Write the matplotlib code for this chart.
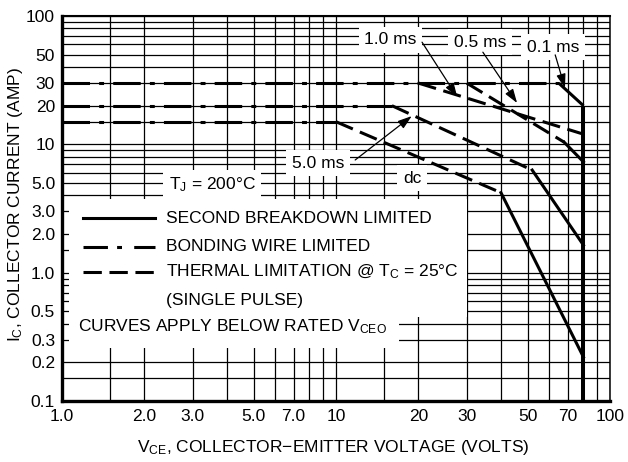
import matplotlib
matplotlib.use("Agg")
import matplotlib.pyplot as plt
from matplotlib.patches import Rectangle
from matplotlib.ticker import FixedLocator, NullFormatter

plt.rcParams['font.family'] = ['Liberation Sans', 'DejaVu Sans']
plt.rcParams['mathtext.default'] = 'regular'

# corner points, VCE in volts, IC in amps
bond_v_end = [65, 16, 10]      # bonding wire limit runs from 1 V to these
bond_i = [30, 20, 15]

v_01ms = [65, 80, 80]
i_01ms = [30, 20, 0.1]

v_1ms = [20, 80]
i_1ms = [30, 12]

v_05ms_th = [30, 68]
i_05ms_th = [30, 10.4]
v_05ms_sb = [68, 80]
i_05ms_sb = [10.4, 7.3]

v_5ms_th = [16, 52]
i_5ms_th = [20, 6.3]
v_5ms_sb = [52, 80]
i_5ms_sb = [6.3, 1.64]

v_dc_th = [10, 40]
i_dc_th = [15, 4.2]
v_dc_sb = [40, 80]
i_dc_sb = [4.2, 0.22]

x_ticks = [1, 2, 3, 5, 7, 10, 20, 30, 50, 70, 100]
x_labels = ['1.0', '2.0', '3.0', '5.0', '7.0', '10', '20', '30', '50', '70', '100']
y_ticks = [0.1, 0.2, 0.3, 0.5, 1, 2, 3, 5, 10, 20, 30, 50, 100]
y_labels = ['0.1', '0.2', '0.3', '0.5', '1.0', '2.0', '3.0', '5.0', '10', '20', '30', '50', '100']
grid_steps = [1, 1.5, 2, 3, 4, 5, 6, 7, 8, 9]

fig = plt.figure(figsize=(6.28, 4.62), dpi=100)
ax = fig.add_axes([62 / 628, 61 / 462, 548 / 628, 385 / 462])
ax.set_xscale('log')
ax.set_yscale('log')
ax.set_xlim(1, 100)
ax.set_ylim(0.1, 100)

grid_x = [s * d for d in (1, 10) for s in grid_steps]
grid_y = [s * d for d in (0.1, 1, 10) for s in grid_steps]
ax.xaxis.set_minor_locator(FixedLocator(grid_x))
ax.yaxis.set_minor_locator(FixedLocator(grid_y))
ax.xaxis.set_minor_formatter(NullFormatter())
ax.yaxis.set_minor_formatter(NullFormatter())
ax.set_xticks(x_ticks)
ax.set_xticklabels(x_labels)
ax.set_yticks(y_ticks)
ax.set_yticklabels(y_labels)
ax.tick_params(which='both', length=0, labelsize=12.5)
ax.tick_params(axis='x', pad=6)
ax.tick_params(axis='y', pad=5)
ax.set_axisbelow(True)
ax.grid(which='both', color='black', lw=0.9)

ax.spines['left'].set_linewidth(2.4)
ax.spines['bottom'].set_linewidth(2.4)
ax.spines['top'].set_linewidth(1.5)
ax.spines['right'].set_linewidth(1.1)

# white areas that blank out the grid behind the legend text
ax.add_patch(Rectangle((1.06, 0.45), 30 - 1.06, 3.76 - 0.45, facecolor='white',
                       edgecolor='none', zorder=1))
ax.add_patch(Rectangle((1.06, 0.26), 17 - 1.06, 0.45 - 0.26, facecolor='white',
                       edgecolor='none', zorder=1))

lw = 2.2
dashdot = (0, (9, 3, 1.6, 3))
dashed = (0, (6, 2.5))

for ve, ib in zip(bond_v_end, bond_i):
    ax.plot([1, ve], [ib, ib], color='black', lw=lw, ls=dashdot, zorder=3)

ax.plot(v_01ms[:2], i_01ms[:2], color='black', lw=lw, zorder=3, solid_capstyle='butt')
ax.plot(v_01ms[1:], i_01ms[1:], color='black', lw=2.9, zorder=3, solid_capstyle='butt')
ax.plot(v_1ms, i_1ms, color='black', lw=lw, ls=dashed, zorder=3)
ax.plot(v_05ms_th, i_05ms_th, color='black', lw=lw, ls=dashed, zorder=3)
ax.plot(v_05ms_sb, i_05ms_sb, color='black', lw=lw, zorder=3)
ax.plot(v_5ms_th, i_5ms_th, color='black', lw=lw, ls=dashed, zorder=3)
ax.plot(v_5ms_sb, i_5ms_sb, color='black', lw=lw, zorder=3)
ax.plot(v_dc_th, i_dc_th, color='black', lw=lw, ls=dashed, zorder=3)
ax.plot(v_dc_sb, i_dc_sb, color='black', lw=lw, zorder=3)

box = dict(facecolor='white', edgecolor='none', pad=4)
fs = 12.5
labels = [('1.0 ms', 0.599, 0.938), ('0.5 ms', 0.763, 0.932), ('0.1 ms', 0.896, 0.919),
          ('5.0 ms', 0.467, 0.618), ('dc', 0.639, 0.579),
          ('T$_J$ = 200°C', 0.274, 0.561)]
for txt, fx, fy in labels:
    ax.text(fx, fy, txt, transform=ax.transAxes, ha='center', va='center',
            fontsize=fs, bbox=box, zorder=4)

arrows = [((27.7, 23.4), (0.657, 0.932)), ((45.8, 21.0), (0.768, 0.906)),
          ((68.5, 27.5), (0.900, 0.899)), ((18.9, 16.6), (0.535, 0.626))]
for tip, tail in arrows:
    ax.annotate('', xy=tip, xycoords='data', xytext=tail, textcoords='axes fraction',
                arrowprops=dict(arrowstyle='-|>,head_length=0.6,head_width=0.2',
                                lw=0.9, color='black', mutation_scale=14,
                                shrinkA=0, shrinkB=0), zorder=5)

# legend
ax.plot([0.038, 0.170], [0.475, 0.475], transform=ax.transAxes, color='black', lw=lw, zorder=3)
ax.plot([0.038, 0.170], [0.400, 0.400], transform=ax.transAxes, color='black', lw=lw,
        ls=(0, (8, 3, 1.6, 4)), zorder=3)
ax.plot([0.038, 0.170], [0.335, 0.335], transform=ax.transAxes, color='black', lw=lw,
        ls=(0, (6, 2.5)), zorder=3)
ax.text(0.190, 0.475, 'SECOND BREAKDOWN LIMITED', transform=ax.transAxes, va='center', fontsize=fs, zorder=4)
ax.text(0.190, 0.400, 'BONDING WIRE LIMITED', transform=ax.transAxes, va='center', fontsize=fs, zorder=4)
ax.text(0.190, 0.335, 'THERMAL LIMITATION @ T$_C$ = 25°C', transform=ax.transAxes, va='center',
        fontsize=fs, zorder=4, bbox=dict(facecolor='white', edgecolor='none', pad=2))
ax.text(0.190, 0.262, '(SINGLE PULSE)', transform=ax.transAxes, va='center', fontsize=fs, zorder=4)
ax.text(0.029, 0.192, 'CURVES APPLY BELOW RATED V$_{CEO}$', transform=ax.transAxes, va='center',
        fontsize=fs, zorder=4)

ax.set_xlabel('V$_{CE}$, COLLECTOR\u2212EMITTER VOLTAGE (VOLTS)', fontsize=fs)
ax.set_ylabel('I$_C$, COLLECTOR CURRENT (AMP)', fontsize=fs)
ax.xaxis.set_label_coords(0.4945, -0.122)
ax.yaxis.set_label_coords(-0.084, 0.51)
ax.xaxis.label.set_va('center')
ax.yaxis.label.set_va('center')

fig.savefig('out.png', dpi=100)
